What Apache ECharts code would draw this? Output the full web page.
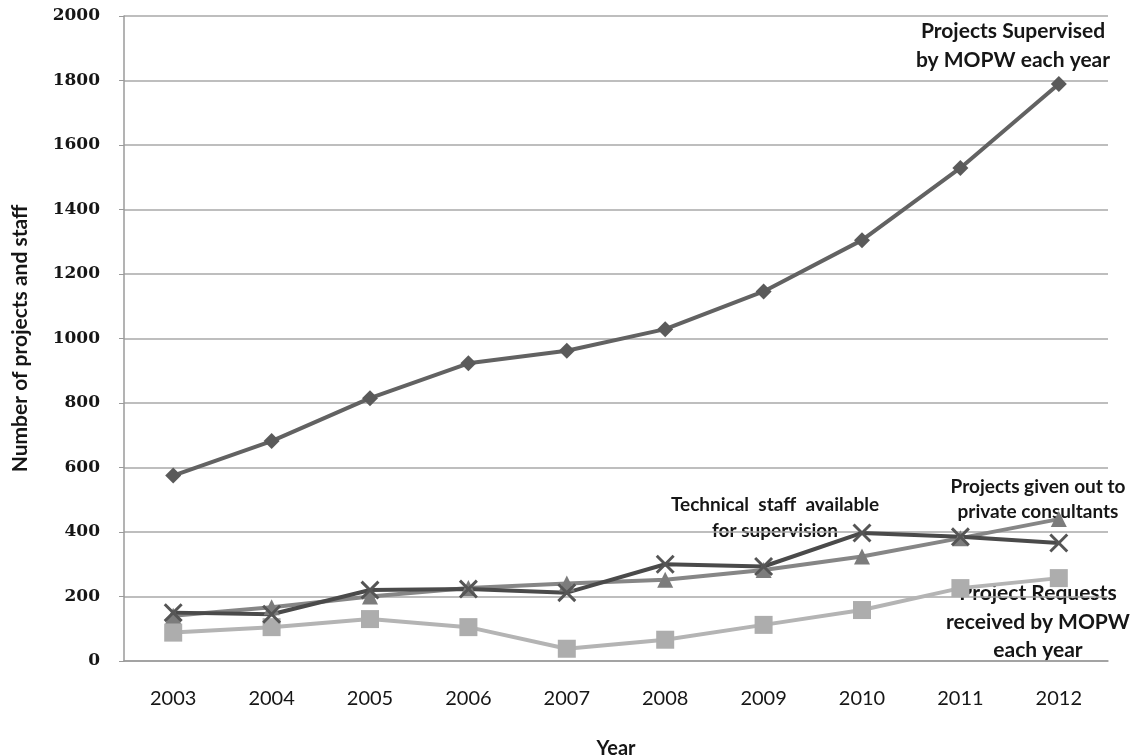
<!DOCTYPE html>
<html>
<head>
<meta charset="utf-8">
<script src="https://cdn.jsdelivr.net/npm/echarts@6/dist/echarts.min.js"></script>
<style>
  html, body { margin: 0; padding: 0; background: #ffffff; }
  #chart { width: 1146px; height: 756px; }
</style>
</head>
<body>
<div id="chart"></div>
<script>
// Years on the horizontal axis
const years = ['2003', '2004', '2005', '2006', '2007', '2008', '2009', '2010', '2011', '2012'];

// Projects supervised by MOPW each year
const supervised = [575, 682, 815, 923, 962, 1029, 1146, 1305, 1529, 1789];
// Project requests received by MOPW each year
const requests = [88, 105, 130, 105, 38, 66, 112, 158, 226, 257];
// Projects given out to private consultants
const consultants = [140, 167, 200, 226, 240, 252, 282, 324, 381, 440];
// Technical staff available for supervision
const staff = [150, 145, 220, 223, 212, 300, 293, 397, 385, 366];

// Value axis ticks
const yTicks = [0, 200, 400, 600, 800, 1000, 1200, 1400, 1600, 1800, 2000];

const labelFont = 'Lato, "Open Sans", sans-serif';
const textColor = '#161616';
const crossSymbol = 'path://M0,1.1L1.1,0L10,8.9L8.9,10Z M8.9,0L10,1.1L1.1,10L0,8.9Z';

const chart = echarts.init(document.getElementById('chart'), null, { renderer: 'canvas' });

chart.setOption({
  backgroundColor: '#ffffff',
  animation: false,
  grid: { left: 124, right: 38, top: 16, bottom: 95, containLabel: false, outerBoundsMode: 'none' },
  xAxis: {
    type: 'category',
    data: years,
    boundaryGap: true,
    name: 'Year',
    nameLocation: 'middle',
    nameGap: 78,
    nameTextStyle: { fontFamily: labelFont, fontWeight: 'bold', fontSize: 20, color: textColor },
    axisLine: { lineStyle: { color: '#9a9a9a', width: 1.5 } },
    axisTick: { show: false },
    axisLabel: { fontFamily: labelFont, fontSize: 20, color: textColor, margin: 28 }
  },
  yAxis: {
    type: 'value',
    min: yTicks[0],
    max: yTicks[yTicks.length - 1],
    interval: 200,
    name: 'Number of projects and staff',
    nameLocation: 'middle',
    nameGap: 93,
    nameTextStyle: { fontFamily: labelFont, fontWeight: 'bold', fontSize: 21, color: textColor },
    axisLine: { show: true, lineStyle: { color: '#9a9a9a', width: 1.5 } },
    axisTick: { show: true, length: 5, lineStyle: { color: '#9a9a9a' } },
    axisLabel: {
      fontFamily: '"DejaVu Serif", "Liberation Serif", serif',
      fontWeight: 'bold', fontSize: 17, color: textColor, margin: 24,
      formatter: v => String(v)
    },
    splitLine: { lineStyle: { color: '#a8a8a8', width: 1.5 } }
  },
  series: [
    {
      name: 'Projects Supervised by MOPW each year',
      type: 'line',
      data: supervised,
      symbol: 'diamond',
      symbolSize: 16,
      lineStyle: { color: '#626262', width: 4 },
      itemStyle: { color: '#5a5a5a' }
    },
    {
      name: 'Project Requests received by MOPW each year',
      type: 'line',
      data: requests,
      symbol: 'rect',
      symbolSize: 18,
      lineStyle: { color: '#b4b4b4', width: 4 },
      itemStyle: { color: '#adadad' }
    },
    {
      name: 'Projects given out to private consultants',
      type: 'line',
      data: consultants,
      symbol: 'triangle',
      symbolSize: 16,
      lineStyle: { color: '#868686', width: 4 },
      itemStyle: { color: '#7c7c7c' }
    },
    {
      name: 'Technical staff available for supervision',
      type: 'line',
      data: staff,
      symbol: crossSymbol,
      symbolSize: 19,
      lineStyle: { color: '#4a4a4a', width: 4 },
      itemStyle: { color: '#555555' }
    }
  ],
  graphic: [
    {
      type: 'text', x: 1013, y: 45.5,
      style: {
        text: 'Projects Supervised\nby MOPW each year',
        font: 'bold 21px ' + labelFont, fill: textColor,
        align: 'center', verticalAlign: 'middle', lineHeight: 29
      }
    },
    {
      type: 'text', x: 775, y: 518,
      style: {
        text: 'Technical  staff  available\nfor supervision',
        font: 'bold 19px ' + labelFont, fill: textColor,
        align: 'center', verticalAlign: 'middle', lineHeight: 26
      }
    },
    {
      type: 'text', x: 1038, y: 499.5,
      style: {
        text: 'Projects given out to\nprivate consultants',
        font: 'bold 19px ' + labelFont, fill: textColor,
        align: 'center', verticalAlign: 'middle', lineHeight: 25
      }
    },
    {
      type: 'text', x: 1038, y: 622,
      style: {
        text: 'Project Requests\nreceived by MOPW\neach year',
        font: 'bold 21px ' + labelFont, fill: textColor,
        align: 'center', verticalAlign: 'middle', lineHeight: 28.5
      }
    }
  ]
});
</script>
</body>
</html>
